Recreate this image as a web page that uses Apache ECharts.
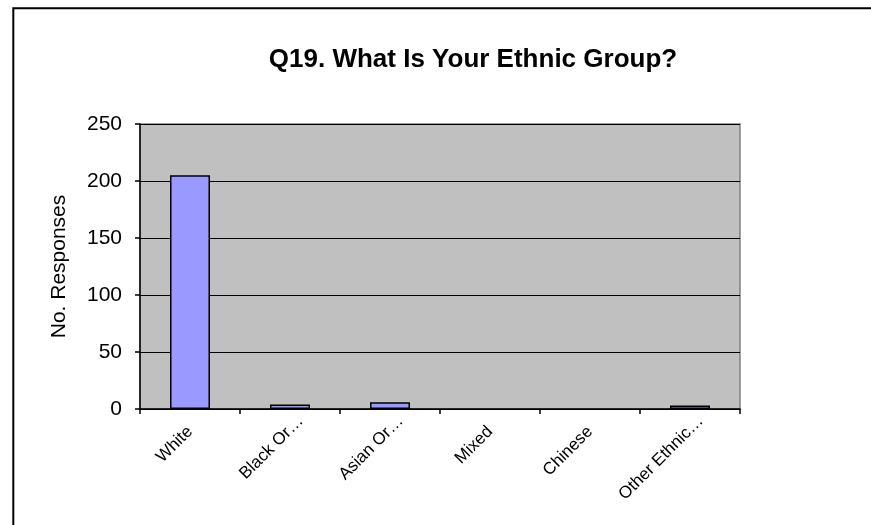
<!DOCTYPE html>
<html>
<head>
<meta charset="utf-8">
<script src="https://cdn.jsdelivr.net/npm/echarts@6/dist/echarts.min.js"></script>
<style>html,body{margin:0;padding:0;background:#fff}#c{width:871px;height:525px}</style>
</head>
<body>
<div id="c"></div>
<script>
const titleText = 'Q19. What Is Your Ethnic Group?';
const yAxisName = 'No. Responses';
const categories = ['White', 'Black Or…', 'Asian Or…', 'Mixed', 'Chinese', 'Other Ethnic…'];
const responses = [205, 4, 6, 0, 0, 3];
const yTicks = { min: 0, max: 250, interval: 50 };

const FONT = 'Liberation Sans, Arial, sans-serif';
const chart = echarts.init(document.getElementById('c'), null, { renderer: 'canvas' });
chart.setOption({
  animation: false,
  backgroundColor: '#ffffff',
  textStyle: { fontFamily: FONT },
  graphic: [{
    type: 'rect', silent: true,
    shape: { x: 13.3, y: 8.3, width: 900, height: 560 },
    style: { fill: 'none', stroke: '#000', lineWidth: 2 }
  }],
  title: {
    text: titleText, left: 468, top: 42, textAlign: 'center',
    textStyle: { fontSize: 26, fontWeight: 'bold', color: '#000', fontFamily: FONT }
  },
  grid: {
    left: 140, top: 124, width: 600, height: 285,
    show: true, backgroundColor: '#C0C0C0', borderColor: '#808080', borderWidth: 1.5
  },
  xAxis: {
    type: 'category',
    data: categories.map(c => (c.indexOf('…') >= 0
      ? { value: c, textStyle: { padding: [0, -15, 0, 0] } }
      : c)),
    axisLine: { lineStyle: { color: '#000', width: 1.5 } },
    axisTick: { show: true, alignWithLabel: false, length: 5, lineStyle: { color: '#000', width: 1.5 } },
    axisLabel: { rotate: 45, fontSize: 17, color: '#000', margin: 20, interval: 0 }
  },
  yAxis: {
    type: 'value', min: yTicks.min, max: yTicks.max, interval: yTicks.interval,
    name: yAxisName, nameLocation: 'middle', nameGap: 70, nameRotate: 90,
    nameTextStyle: { fontSize: 21, color: '#000' },
    axisLine: { show: true, lineStyle: { color: '#000', width: 1.5 } },
    axisTick: { show: true, length: 5, lineStyle: { color: '#000', width: 1.5 } },
    axisLabel: { fontSize: 21, color: '#000', margin: 18 },
    splitLine: { show: true, lineStyle: { color: '#000', width: 1 } }
  },
  series: [{
    type: 'bar', data: responses.map(v => (v === 0 ? '-' : v)), barWidth: '40%',
    itemStyle: { color: '#9999FF', borderColor: '#000', borderWidth: 1.5 }
  }]
});
</script>
</body>
</html>
